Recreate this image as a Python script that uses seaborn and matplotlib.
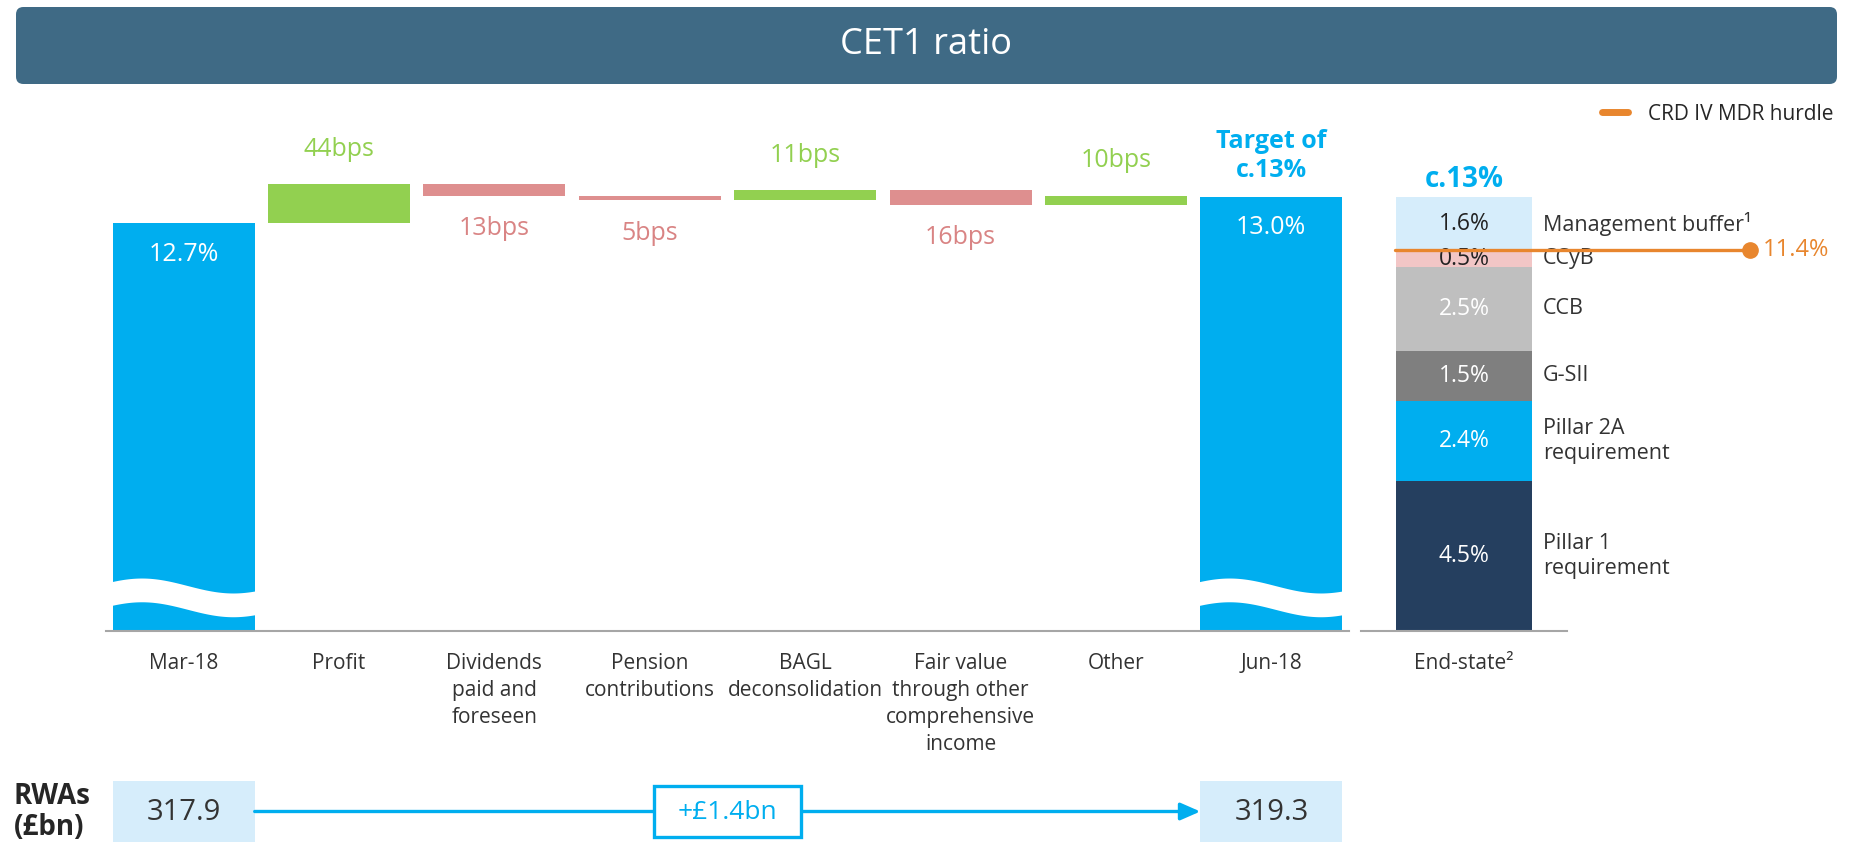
import numpy as np
import pandas as pd
import matplotlib.pyplot as plt
import seaborn as sns
from matplotlib.patches import FancyBboxPatch, Rectangle
from matplotlib.lines import Line2D

# ── data ────────────────────────────────────────────────────────────────
categories = ['Mar-18', 'Profit', 'Dividends\npaid and\nforeseen',
              'Pension\ncontributions', 'BAGL\ndeconsolidation',
              'Fair value\nthrough other\ncomprehensive\nincome',
              'Other', 'Jun-18']
opening_ratio = 12.7
closing_ratio = 13.0
movements_bps = [44, -13, -5, 11, -16, 10]

end_state_parts = ['Pillar 1\nrequirement', 'Pillar 2A\nrequirement', 'G-SII',
                   'CCB', 'CCyB', 'Management buffer\u00b9']
end_state_values = [4.5, 2.4, 1.5, 2.5, 0.5, 1.6]
mdr_hurdle = 11.4

rwa_values = [317.9, 319.3]
rwa_change = '+\u00a31.4bn'

# ── style ───────────────────────────────────────────────────────────────
sns.set_theme(style='white')
plt.rcParams['font.family'] = ['Open Sans', 'DejaVu Sans']

CYAN = '#00AEEF'
GREEN = '#92D050'
RED = '#DE8F8F'
RED_TXT = '#D98484'
BANNER = '#3F6A85'
ORANGE = '#E8862E'
LIGHT_BLUE = '#D6EDFB'
TEXT = '#333333'
AXIS_GREY = '#A6A6A6'
end_state_colors = ['#253F5F', CYAN, '#7F7F7F', '#BFBFBF', '#F2C6C6', LIGHT_BLUE]
end_state_txt = ['white', 'white', 'white', 'white', '#222222', '#222222']

W, H = 1850, 842
fig = plt.figure(figsize=(W / 100, H / 100), dpi=100)


def px_box(x0, x1, y_top, y_bottom):
    return [x0 / W, 1 - y_bottom / H, (x1 - x0) / W, (y_bottom - y_top) / H]


# title banner
banner = FancyBboxPatch((16 / W, 1 - 84 / H), (1837 - 16) / W, 77 / H,
                        boxstyle='round,pad=0,rounding_size=0.004',
                        mutation_aspect=W / H, transform=fig.transFigure,
                        facecolor=BANNER, edgecolor='none')
fig.patches.append(banner)
fig.text(926 / W, 1 - 45 / H, 'CET1 ratio', color='white', fontsize=26,
         ha='center', va='center')

# ── 1. waterfall ────────────────────────────────────────────────────────
ax = fig.add_axes(px_box(106, 1349, 100, 631))
bar_w = 0.914

totals = pd.DataFrame({'cat': [categories[0], categories[-1]],
                       'ratio': [opening_ratio, closing_ratio]})
sns.barplot(data=totals, x='cat', y='ratio', order=categories, color=CYAN,
            saturation=1, width=bar_w, errorbar=None, linewidth=0, ax=ax)

level = opening_ratio
for i, m in enumerate(movements_bps, start=1):
    d = m / 100
    bottom = level if d > 0 else level + d
    ax.bar(i, abs(d), bottom=bottom, width=bar_w,
           color=GREEN if d > 0 else RED, linewidth=0)
    ax.annotate(f'{abs(m)}bps', xy=(i, level + d),
                xytext=(0, 35 if d > 0 else -33), textcoords='offset pixels',
                ha='center', va='center', fontsize=18,
                color=GREEN if d > 0 else RED_TXT)
    level += d

for i, v in [(0, opening_ratio), (len(categories) - 1, closing_ratio)]:
    ax.annotate(f'{v:.1f}%', xy=(i, v), xytext=(0, -31),
                textcoords='offset pixels', ha='center', va='center',
                fontsize=18, color='white')
    # axis-break wave across the total bars
    t = np.linspace(0, 1, 120)
    xs = i - bar_w / 2 - 0.01 + (bar_w + 0.02) * t
    top = 8.581 + 0.085 * np.cos(2 * np.pi * (t - 0.21) / 1.26)
    ax.fill_between(xs, top - 0.27, top, color='white', linewidth=0, zorder=3)

ax.annotate('Target of\nc.13%', xy=(len(categories) - 1, closing_ratio),
            xytext=(0, 14), textcoords='offset pixels', ha='center',
            va='bottom', fontsize=18, fontweight='bold', color=CYAN,
            linespacing=1.2)

ax.set_xlim(-0.5, len(categories) - 0.5)
ax.set_ylim(8.064, 14.098)
ax.set_xlabel('')
ax.set_ylabel('')
ax.set_yticks([])
ax.set_xticks(range(len(categories)))
ax.set_xticklabels(categories, fontsize=15, color=TEXT, linespacing=1.37)
ax.tick_params(axis='x', length=0, pad=16)
sns.despine(ax=ax, left=True)
ax.spines['bottom'].set_color(AXIS_GREY)
ax.spines['bottom'].set_linewidth(1.5)

# ── 2. end-state stack ──────────────────────────────────────────────────
ax2 = fig.add_axes(px_box(1361, 1567, 100, 631))
bottoms = np.concatenate([[0], np.cumsum(end_state_values)[:-1]])
for part, v, b, c, tc in zip(end_state_parts, end_state_values, bottoms,
                             end_state_colors, end_state_txt):
    ax2.bar(0, v, bottom=b, width=0.665, color=c, linewidth=0)
    ax2.text(0, b + v / 2, f'{v:.1f}%', ha='center', va='center',
             fontsize=16.5, color=tc)
    ax2.text(0.383, b + v / 2, part, ha='left', va='center', fontsize=15.5,
             color=TEXT, linespacing=1.25, clip_on=False)

total = float(np.sum(end_state_values))
ax2.annotate('c.13%', xy=(0, total), xytext=(0, 18), textcoords='offset pixels',
             ha='center', va='center', fontsize=20, fontweight='bold', color=CYAN)

ax2.plot([-0.335, 1.388], [mdr_hurdle, mdr_hurdle], color=ORANGE, lw=2.4,
         clip_on=False, zorder=4)
ax2.plot([1.388], [mdr_hurdle], 'o', color=ORANGE, ms=11, clip_on=False, zorder=4)
ax2.text(1.45, mdr_hurdle, f'{mdr_hurdle:.1f}%', color=ORANGE, fontsize=17,
         ha='left', va='center', clip_on=False)

ax2.set_xlim(-0.5, 0.5)
ax2.set_ylim(0, 15.907)
ax2.set_yticks([])
ax2.set_xticks([0])
ax2.set_xticklabels(['End-state\u00b2'], fontsize=15, color=TEXT)
ax2.tick_params(axis='x', length=0, pad=16)
sns.despine(ax=ax2, left=True)
ax2.spines['bottom'].set_color(AXIS_GREY)
ax2.spines['bottom'].set_linewidth(1.5)

fig.legend(handles=[Line2D([], [], color=ORANGE, lw=5, solid_capstyle='round')],
           labels=['CRD IV MDR hurdle'], loc='center right',
           bbox_to_anchor=(1834 / W, 1 - 114 / H), frameon=False, fontsize=15,
           handlelength=1.25, handletextpad=1.0, borderpad=0, borderaxespad=0)

# ── 3. RWAs row ─────────────────────────────────────────────────────────
ax3 = fig.add_axes(px_box(106, 1349, 781, 842))
rwa_df = pd.DataFrame({'cat': [categories[0], categories[-1]], 'rwa': rwa_values})
# bars run far past the 0-1 window, so they clip into full-height boxes
sns.barplot(data=rwa_df, x='cat', y='rwa', order=categories, color=LIGHT_BLUE,
            saturation=1, width=bar_w, errorbar=None, linewidth=0, ax=ax3)
ax3.set_xlim(-0.5, len(categories) - 0.5)
ax3.set_ylim(0, 1)
ax3.axis('off')

rwa_pos = [0, len(categories) - 1]
for i, v in zip(rwa_pos, rwa_values):
    ax3.text(i, 0.49, f'{v:.1f}', ha='center', va='center', fontsize=21, color=TEXT)

ax3.annotate('', xy=(rwa_pos[1] - bar_w / 2, 0.5), xytext=(rwa_pos[0] + bar_w / 2, 0.5),
             arrowprops=dict(arrowstyle='-|>,head_length=0.8,head_width=0.35',
                             mutation_scale=15, color=CYAN, lw=2.4,
                             shrinkA=0, shrinkB=0))
mid = (rwa_pos[0] + rwa_pos[1]) / 2
ax3.add_patch(Rectangle((mid - 0.47, 0.08), 0.94, 0.84, facecolor='white',
                        edgecolor=CYAN, lw=2.4, zorder=5))
ax3.text(mid, 0.48, rwa_change, ha='center', va='center', fontsize=19,
         color=CYAN, zorder=6)

fig.text(14 / W, 1 - 812 / H, 'RWAs\n(\u00a3bn)', fontsize=20, fontweight='bold',
         color='#262626', ha='left', va='center', linespacing=1.05)

fig.savefig('out.png', dpi=100)
